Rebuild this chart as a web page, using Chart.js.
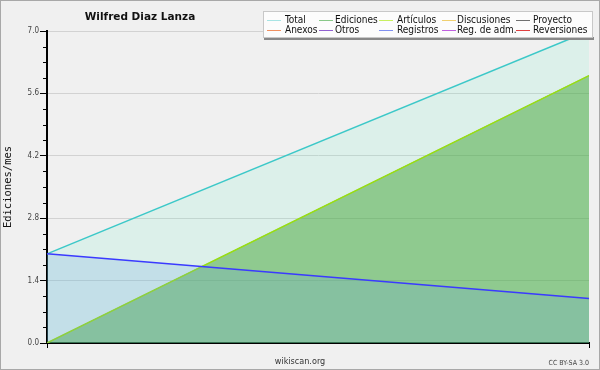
<!DOCTYPE html>
<html>
<head>
<meta charset="utf-8">
<script src="https://cdn.jsdelivr.net/npm/chart.js@4.4.0/dist/chart.umd.min.js"></script>
<style>
html,body{margin:0;padding:0;background:#f0f0f0;}
canvas{display:block;}
</style>
</head>
<body>
<canvas id="c" width="600" height="370"></canvas>
<script>
// ---- data ----
const categories = ['2016-01', '2016-02'];
const totalValues = [2, 7];
const edicionesValues = [0, 6];
const articulosValues = [0, 6];
const registrosValues = [2, 1];
const yTickValues = [0, 1.4, 2.8, 4.2, 5.6, 7.0];
const yTickLabels = ['0.0', '1.4', '2.8', '4.2', '5.6', '7.0'];
const legendNames = [['Total', 'Ediciones', 'Artículos', 'Discusiones', 'Proyecto'],
                     ['Anexos', 'Otros', 'Registros', 'Reg. de adm.', 'Reversiones']];
const chartTitle = 'Wilfred Diaz Lanza';
const yTitle = 'Ediciones/mes';
const footerText = 'wikiscan.org';
const licenseText = 'CC BY-SA 3.0';

// ---- styles ----
const legendColors = [['#a8e4e4', '#88c888', '#c8f060', '#f0d070', '#707070'],
                      ['#f09060', '#9060d0', '#8090f0', '#c060e0', '#e04040']];
const legendSwatchX = [267, 319, 379, 442, 516];
const legendTextX = [285, 335, 397, 457, 533];
const legendRowY = [20, 30];

const isMajor = v => yTickValues.some(t => Math.abs(t - v) < 1e-6);

const decorPlugin = {
  id: 'decor',
  beforeDraw(chart) {
    const ctx = chart.ctx;
    ctx.save();
    ctx.fillStyle = '#f0f0f0';
    ctx.fillRect(0, 0, 600, 370);
    ctx.restore();
  },
  afterDraw(chart) {
    const ctx = chart.ctx;
    const y = chart.scales.y;
    ctx.save();
    // minor ticks
    ctx.strokeStyle = '#000';
    ctx.lineWidth = 1;
    y.ticks.forEach(t => {
      if (!isMajor(t.value)) {
        const py = Math.round(y.getPixelForValue(t.value)) + 0.5;
        ctx.beginPath();
        ctx.moveTo(y.right - 4, py);
        ctx.lineTo(y.right, py);
        ctx.stroke();
      }
    });
    // border
    ctx.strokeStyle = '#a8a8a8';
    ctx.strokeRect(0.5, 0.5, 599, 369);
    // title
    ctx.fillStyle = '#111';
    ctx.font = 'bold 10.5px "DejaVu Sans"';
    ctx.textAlign = 'center';
    ctx.textBaseline = 'alphabetic';
    ctx.fillText(chartTitle, 140, 20);
    // legend box
    ctx.fillStyle = '#888';
    ctx.fillRect(264, 37, 330, 3);
    ctx.fillStyle = '#fcfcfc';
    ctx.fillRect(263, 11, 330, 27);
    ctx.strokeStyle = '#c8c8c8';
    ctx.strokeRect(263.5, 11.5, 329, 26);
    ctx.font = '10px "DejaVu Sans Condensed", "DejaVu Sans"';
    ctx.textAlign = 'left';
    ctx.textBaseline = 'middle';
    for (let r = 0; r < 2; r++) {
      for (let c = 0; c < 5; c++) {
        const yy = legendRowY[r];
        ctx.strokeStyle = legendColors[r][c];
        ctx.beginPath();
        ctx.moveTo(legendSwatchX[c], yy + 0.5);
        ctx.lineTo(legendSwatchX[c] + 14, yy + 0.5);
        ctx.stroke();
        ctx.fillStyle = '#111';
        ctx.fillText(legendNames[r][c], legendTextX[c], yy);
      }
    }
    // footer
    ctx.textBaseline = 'alphabetic';
    ctx.fillStyle = '#333';
    ctx.font = '9px "DejaVu Sans Condensed", "DejaVu Sans"';
    ctx.textAlign = 'center';
    ctx.fillText(footerText, 300, 364);
    ctx.font = '7px "DejaVu Sans Condensed", "DejaVu Sans"';
    ctx.textAlign = 'right';
    ctx.fillStyle = '#444';
    ctx.fillText(licenseText, 589, 365);
    ctx.restore();
  }
};

new Chart(document.getElementById('c'), {
  type: 'line',
  data: {
    labels: categories,
    datasets: [
      {
        label: 'Total', data: totalValues, order: 4,
        borderColor: '#3cc8c8', borderWidth: 1.5,
        backgroundColor: 'rgba(107,240,200,0.15)', fill: 'origin'
      },
      {
        label: 'Ediciones', data: edicionesValues, order: 3,
        borderColor: '#88c888', borderWidth: 1,
        backgroundColor: 'rgba(66,164,52,0.5)', fill: 'origin'
      },
      {
        label: 'Artículos', data: articulosValues, order: 2,
        borderColor: '#99dd11', borderWidth: 1.5, fill: false
      },
      {
        label: 'Registros', data: registrosValues, order: 1,
        borderColor: '#3a3aff', borderWidth: 1.5,
        backgroundColor: 'rgba(106,159,229,0.21)', fill: 'origin'
      }
    ]
  },
  options: {
    responsive: false,
    devicePixelRatio: 1,
    animation: false,
    layout: { padding: { left: 0, top: 31, right: 11, bottom: 0 } },
    elements: { point: { radius: 0 }, line: { tension: 0 } },
    plugins: { legend: { display: false }, title: { display: false }, tooltip: { enabled: false } },
    scales: {
      x: {
        type: 'category',
        offset: false,
        afterFit: s => { s.height = 27; },
        ticks: { display: false },
        grid: { drawOnChartArea: false, drawTicks: true, tickLength: 5, color: '#000', tickColor: '#000' },
        border: { display: true, color: '#000', width: 2 }
      },
      y: {
        min: 0, max: 7,
        afterFit: s => { s.width = 47; },
        afterBuildTicks: s => {
          const t = [];
          for (let i = 0; i <= 20; i++) t.push({ value: Math.round(i * 0.35 * 100) / 100 });
          s.ticks = t;
        },
        ticks: {
          padding: 1,
          color: '#444',
          font: { family: '"DejaVu Sans Condensed", "DejaVu Sans"', size: 8 },
          callback: v => {
            const i = yTickValues.findIndex(t => Math.abs(t - v) < 1e-6);
            return i >= 0 ? yTickLabels[i] : '';
          }
        },
        grid: {
          tickLength: 7,
          color: ctx => (ctx.tick && isMajor(ctx.tick.value) && ctx.tick.value > 0) ? '#d2d2d2' : 'transparent',
          tickColor: ctx => (ctx.tick && isMajor(ctx.tick.value)) ? '#000' : 'transparent'
        },
        border: { display: true, color: '#000', width: 2 },
        title: {
          display: true, text: yTitle, color: '#111',
          font: { family: '"DejaVu Sans Mono"', size: 10.5 },
          padding: { top: 2, bottom: 0 }
        }
      }
    }
  },
  plugins: [decorPlugin]
});
</script>
</body>
</html>
